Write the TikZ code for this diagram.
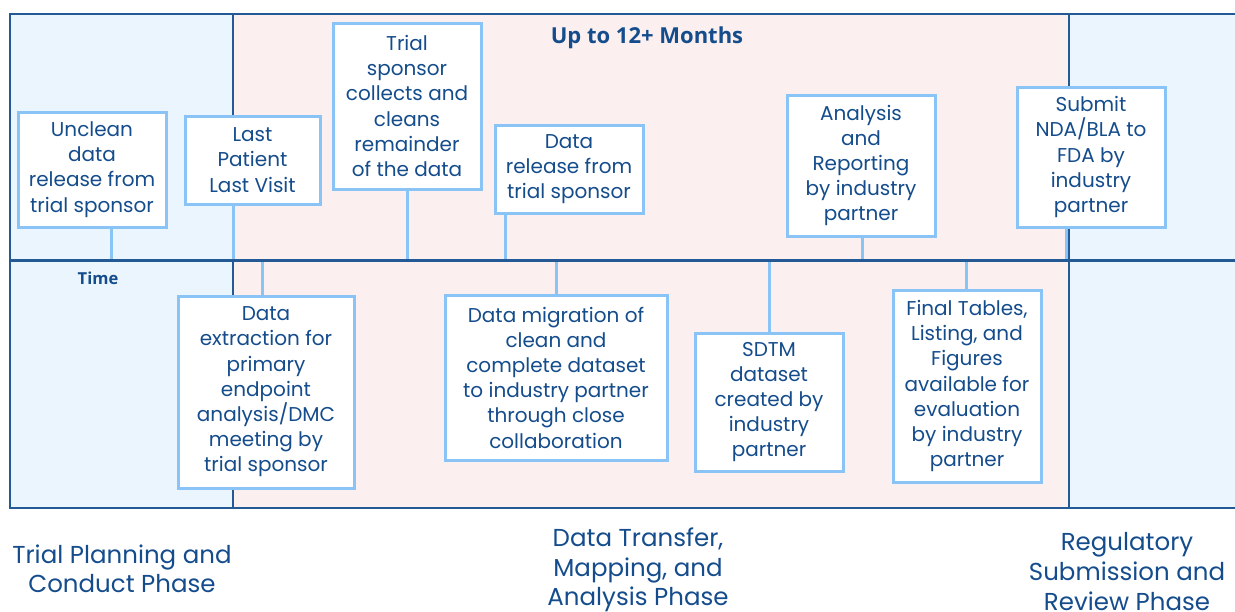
\documentclass[tikz,border=0pt]{standalone}
\usepackage{fontspec}
\setmainfont{Poppins}
\newfontfamily\osans{Open Sans}
\definecolor{txtblue}{RGB}{20,76,140}
\definecolor{boxline}{RGB}{138,195,245}
\definecolor{bluefill}{RGB}{235,245,253}
\definecolor{pinkfill}{RGB}{251,240,239}
\definecolor{panelline}{RGB}{35,90,150}
\tikzset{
  panel/.style={draw=panelline,line width=1.5pt},
  evbox/.style={draw=boxline,line width=3pt,fill=white,align=center,text=txtblue,
    font=\fontsize{20}{25.2}\selectfont,inner sep=0pt},
  stem/.style={draw=boxline,line width=3pt},
  axisline/.style={draw=panelline,line width=3pt},
  phase/.style={align=center,text=txtblue,font=\fontsize{24.5}{29.8}\selectfont},
}
\begin{document}
\begin{tikzpicture}[x=1pt,y=-1pt]
\useasboundingbox (0,0) rectangle (1235,611);
\begin{scope}
\clip (0,0) rectangle (1235,611);
\fill[bluefill] (10,14) rectangle (233,508);
\fill[pinkfill] (233,14) rectangle (1069,508);
\fill[bluefill] (1069,14) rectangle (1245,508);
\draw[panel] (10,14) rectangle (233,508);
\draw[panel] (233,14) rectangle (1069,508);
\draw[panel] (1069,14) rectangle (1245,508);
\end{scope}

% axis coordinates
\coordinate (tA) at (111,260);
\coordinate (tB) at (233,260);
\coordinate (tC) at (407,260);
\coordinate (tD) at (505,260);
\coordinate (tE) at (862,260);
\coordinate (tF) at (1066,260);
\coordinate (tG) at (262,260);
\coordinate (tH) at (556,260);
\coordinate (tI) at (769,260);
\coordinate (tJ) at (966,260);
\coordinate (axL) at (10,260);
\coordinate (axR) at (1235,260);

% top boxes
\node[evbox,minimum width=148pt,minimum height=115pt] (A) at (92,169.5) {Unclean\\data\\release from\\trial sponsor};
\node[evbox,minimum width=135pt,minimum height=88pt] (B) at (252.5,160) {Last\\Patient\\Last Visit};
\node[evbox,minimum width=148pt,minimum height=166pt] (C) at (407,106) {Trial\\sponsor\\collects and\\cleans\\remainder\\of the data};
\node[evbox,minimum width=148pt,minimum height=88pt] (D) at (569,169) {Data\\release from\\trial sponsor};
\node[evbox,minimum width=148pt,minimum height=141pt] (E) at (861,165.5) {Analysis\\and\\Reporting\\by industry\\partner};
\node[evbox,minimum width=148pt,minimum height=140pt] (F) at (1091,157) {Submit\\NDA/BLA to\\FDA by\\industry\\partner};

% bottom boxes
\node[evbox,minimum width=176pt,minimum height=192pt] (G) at (266,392) {Data\\extraction for\\primary\\endpoint\\analysis/DMC\\meeting by\\trial sponsor};
\node[evbox,minimum width=222pt,minimum height=165pt] (H) at (556,377.5) {Data migration of\\clean and\\complete dataset\\to industry partner\\through close\\collaboration};
\node[evbox,minimum width=148pt,minimum height=138pt] (I) at (769,402) {SDTM\\dataset\\created by\\industry\\partner};
\node[evbox,minimum width=148pt,minimum height=192pt] (J) at (967,386) {Final Tables,\\Listing, and\\Figures\\available for\\evaluation\\by industry\\partner};

% stems
\draw[stem] (A.south -| tA) -- (tA);
\draw[stem] (B.south -| tB) -- (tB);
\draw[stem] (C.south -| tC) -- (tC);
\draw[stem] (D.south -| tD) -- (tD);
\draw[stem] (E.south -| tE) -- (tE);
\draw[stem] (F.south -| tF) -- (tF);
\draw[stem] (G.north -| tG) -- (tG);
\draw[stem] (H.north -| tH) -- (tH);
\draw[stem] (I.north -| tI) -- (tI);
\draw[stem] (J.north -| tJ) -- (tJ);

% axis
\draw[axisline] (axL) -- (axR);

\node[text=txtblue,font=\osans\bfseries\fontsize{16.5}{18}\selectfont] (time) at (98,278) {Time};
\node[text=txtblue,font=\osans\bfseries\fontsize{22}{24}\selectfont] (title) at (647,38) {Up to 12+ Months};

% phase labels
\node[phase,anchor=north] (p1) at (122,541) {Trial Planning and\\Conduct Phase};
\node[phase,anchor=north] (p2) at (638,524) {Data Transfer,\\Mapping, and\\Analysis Phase};
\node[phase,anchor=north] (p3) at (1127,529) {Regulatory\\Submission and\\Review Phase};
\end{tikzpicture}
\end{document}
